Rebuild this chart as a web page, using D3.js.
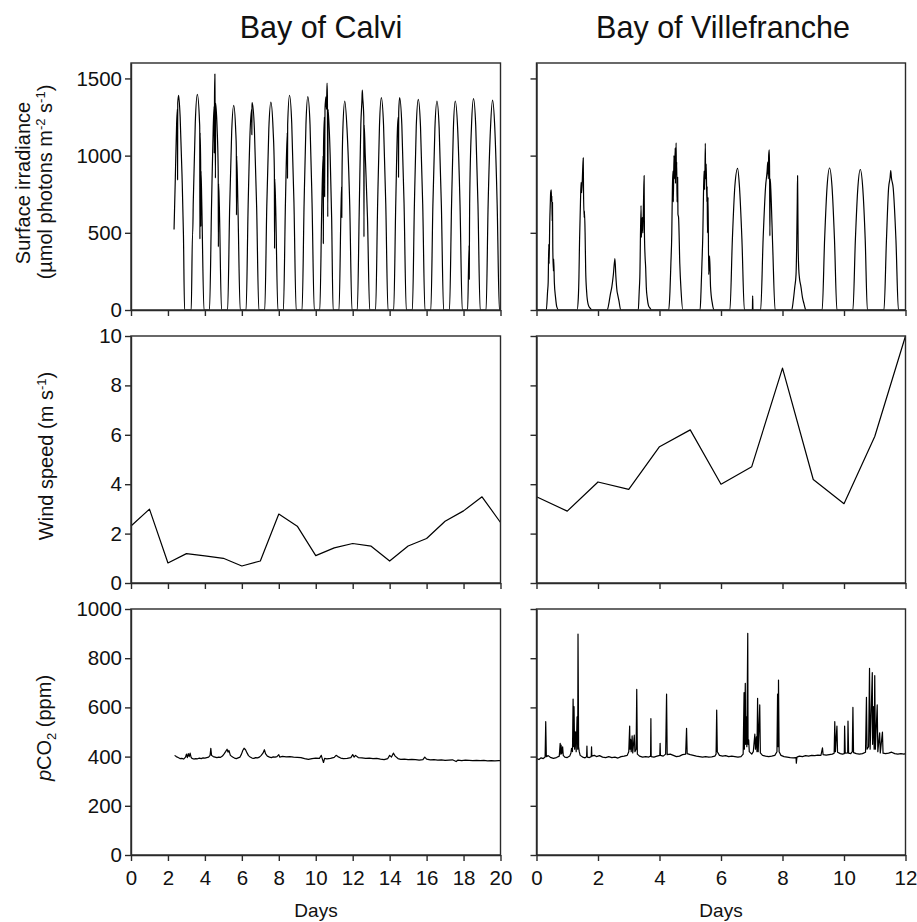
<!DOCTYPE html>
<html><head><meta charset="utf-8">
<script src="https://cdn.jsdelivr.net/npm/d3@7"></script>
<style>
body{margin:0;background:#fff}
svg{display:block}
text{font-family:"Liberation Sans",Arial,Helvetica,sans-serif;fill:#111}
</style>
</head><body>
<svg id="c" width="917" height="922"></svg>
<script>
// ---------- tick labels ----------
const calviDayTicks = [0,2,4,6,8,10,12,14,16,18,20];
const villeDayTicks = [0,2,4,6,8,10,12];
const irrTicks = [0,500,1000,1500];
const windTicks = [0,2,4,6,8,10];
const pco2Ticks = [0,200,400,600,800,1000];
const siteTitles = ["Bay of Calvi","Bay of Villefranche"];

// ---------- surface irradiance [day, µmol photons m-2 s-1] ----------
const calviIrradiance = [
[2.33,521],[2.40,860],[2.47,1210],[2.51,1300],[2.52,843],[2.53,1340],[2.58,1391],[2.66,1250],[2.76,880],[2.84,480],[2.90,0],
[3.26,0],[3.33,500],[3.34,495],[3.37,700],[3.48,1215],[3.59,1397],[3.71,1215],[3.72,1180],[3.73,460],[3.74,1150],[3.77,950],[3.78,540],[3.79,900],[3.83,700],[3.95,0],
[4.25,0],[4.36,680],[4.45,1180],[4.50,1320],[4.51,1017],[4.52,1380],[4.54,1528],[4.55,1360],[4.57,854],[4.58,1340],[4.66,1180],[4.72,900],[4.73,409],[4.74,820],[4.78,680],[4.90,0],
[5.23,0],[5.34,663],[5.45,1154],[5.56,1326],[5.67,1154],[5.70,1050],[5.71,615],[5.72,1000],[5.79,663],[5.91,0],
[6.23,0],[6.34,672],[6.45,1168],[6.53,1300],[6.54,1136],[6.55,1320],[6.56,1343],[6.68,1168],[6.80,672],[6.92,0],
[7.24,0],[7.35,674],[7.46,1172],[7.57,1347],[7.69,1172],[7.76,900],[7.77,398],[7.78,850],[7.83,674],[7.95,0],
[8.25,0],[8.36,696],[8.46,1150],[8.47,854],[8.48,1200],[8.58,1391],[8.70,1210],[8.82,696],[8.94,0],
[9.26,0],[9.37,691],[9.47,1202],[9.57,1382],[9.69,1202],[9.80,691],[9.92,0],
[10.22,0],[10.33,700],[10.40,1000],[10.41,430],[10.42,1050],[10.47,1250],[10.48,734],[10.50,1300],[10.55,1380],[10.58,1300],[10.61,1469],[10.63,1390],[10.65,604],[10.67,1300],[10.78,1000],[10.86,600],[10.94,0],
[11.26,0],[11.37,677],[11.40,800],[11.41,600],[11.42,850],[11.47,1178],[11.57,1354],[11.69,1178],[11.84,677],[11.96,0],
[12.25,0],[12.36,690],[12.44,1200],[12.50,1360],[12.52,1425],[12.54,1380],[12.60,1250],[12.61,474],[12.62,1200],[12.68,1000],[12.80,600],[12.92,0],
[13.24,0],[13.35,688],[13.45,1197],[13.55,1376],[13.67,1197],[13.79,688],[13.91,0],
[14.22,0],[14.33,688],[14.43,1197],[14.47,1250],[14.48,860],[14.49,1280],[14.54,1376],[14.66,1197],[14.78,688],[14.90,0],
[15.23,0],[15.34,683],[15.44,1188],[15.55,1365],[15.67,1188],[15.79,683],[15.91,0],
[16.23,0],[16.34,677],[16.45,1178],[16.56,1354],[16.68,1178],[16.80,677],[16.92,0],
[17.24,0],[17.35,677],[17.45,1178],[17.55,1354],[17.68,1178],[17.81,677],[17.93,0],
[18.22,0],[18.30,420],[18.31,200],[18.32,480],[18.33,685],[18.43,1191],[18.54,1369],[18.66,1191],[18.78,685],[18.90,0],
[19.22,0],[19.33,680],[19.46,1182],[19.57,1359],[19.69,1182],[19.82,680],[19.94,0],[20,0]
];

const villeIrradiance = [
[0,0],[0.32,0],[0.36,120],[0.38,180],[0.40,426],[0.41,300],[0.43,560],[0.45,700],[0.46,760],[0.48,779],[0.49,700],[0.50,740],[0.51,578],[0.52,697],[0.53,400],[0.55,253],[0.56,330],[0.58,180],[0.62,80],[0.66,20],[0.72,0],
[1.32,0],[1.36,80],[1.38,210],[1.40,450],[1.43,700],[1.45,827],[1.47,760],[1.50,900],[1.52,985],[1.53,760],[1.55,600],[1.56,640],[1.58,500],[1.60,253],[1.63,120],[1.68,37],[1.75,10],[1.80,0],
[2.30,0],[2.36,50],[2.40,100],[2.45,150],[2.50,230],[2.55,333],[2.58,220],[2.62,120],[2.64,100],[2.68,60],[2.74,0],
[3.31,0],[3.34,120],[3.36,210],[3.40,677],[3.41,470],[3.44,600],[3.46,500],[3.48,700],[3.50,870],[3.51,500],[3.53,350],[3.55,275],[3.57,150],[3.60,80],[3.64,30],[3.70,10],[3.73,0],
[4.30,0],[4.34,120],[4.37,300],[4.40,500],[4.42,800],[4.44,900],[4.45,700],[4.47,1000],[4.49,850],[4.51,1050],[4.52,820],[4.54,1082],[4.55,880],[4.56,960],[4.57,700],[4.59,860],[4.60,620],[4.62,600],[4.66,300],[4.70,130],[4.76,0],
[5.32,0],[5.35,120],[5.38,300],[5.41,500],[5.43,750],[5.45,900],[5.47,780],[5.49,1080],[5.50,850],[5.52,945],[5.54,700],[5.55,800],[5.56,500],[5.58,730],[5.60,230],[5.63,350],[5.66,150],[5.72,40],[5.78,0],
[6.29,0],[6.37,459],[6.45,800],[6.54,918],[6.60,800],[6.68,459],[6.76,0],
[7.02,0],[7.03,91],[7.04,0],
[7.29,0],[7.37,460],[7.45,800],[7.50,900],[7.52,958],[7.54,850],[7.55,1000],[7.57,1037],[7.58,900],[7.59,480],[7.60,850],[7.62,780],[7.68,420],[7.76,0],
[8.30,0],[8.35,60],[8.40,150],[8.44,230],[8.46,400],[8.48,700],[8.49,870],[8.50,650],[8.51,400],[8.53,260],[8.55,210],[8.60,150],[8.65,80],[8.70,40],[8.76,0],
[9.29,0],[9.37,460],[9.45,800],[9.53,920],[9.61,800],[9.69,460],[9.77,0],
[10.29,0],[10.37,455],[10.45,790],[10.53,910],[10.61,790],[10.69,455],[10.76,0],
[11.30,0],[11.38,450],[11.45,790],[11.50,860],[11.52,903],[11.54,860],[11.60,790],[11.69,450],[11.77,0],[12,0]
];

// ---------- wind speed (m s-1), daily ----------
const calviWindDays = [0,1,2,3,4,5,6,7,8,9,10,11,12,13,14,15,16,17,18,19,20];
const calviWind = [2.31,2.99,0.81,1.19,1.10,1.00,0.69,0.89,2.79,2.30,1.11,1.42,1.60,1.49,0.89,1.50,1.80,2.50,2.92,3.49,2.45];
const villeWindDays = [0,1,2,3,4,5,6,7,8,9,10,11,12];
const villeWind = [3.49,2.91,4.09,3.79,5.52,6.20,4.00,4.71,8.70,4.19,3.21,5.93,10.0];

// ---------- pCO2 (ppm) [day, ppm] ----------
const calviPco2 = [
[2.36,405],[2.45,400],[2.55,396],[2.65,392],[2.75,393],[2.85,390],[2.95,398],[3.0,410],[3.05,396],[3.1,412],[3.15,400],[3.2,414],[3.25,398],[3.3,393],[3.4,390],[3.5,392],[3.6,391],[3.7,394],[3.8,392],[3.9,395],[4.0,394],[4.1,396],[4.2,398],[4.28,405],[4.32,434],[4.36,405],[4.45,400],[4.55,398],[4.65,396],[4.75,398],[4.85,397],[4.95,402],[5.05,412],[5.12,420],[5.2,430],[5.25,418],[5.3,425],[5.38,405],[5.5,398],[5.6,394],[5.7,392],[5.8,395],[5.9,398],[5.98,410],[6.05,425],[6.12,434],[6.2,428],[6.28,415],[6.36,404],[6.45,398],[6.55,394],[6.65,393],[6.75,396],[6.85,395],[6.95,398],[7.05,405],[7.15,415],[7.22,428],[7.28,412],[7.38,402],[7.5,398],[7.6,396],[7.7,399],[7.8,398],[7.9,400],[8.0,408],[8.05,398],[8.2,401],[8.4,399],[8.6,400],[8.8,398],[9.0,397],[9.2,396],[9.4,392],[9.6,389],[9.8,392],[10.0,394],[10.2,393],[10.3,405],[10.35,392],[10.42,376],[10.48,393],[10.6,391],[10.8,393],[11.0,397],[11.1,405],[11.2,400],[11.35,394],[11.5,392],[11.7,393],[11.9,396],[12.0,408],[12.08,398],[12.15,405],[12.3,396],[12.5,395],[12.7,393],[12.9,394],[13.1,392],[13.3,393],[13.5,390],[13.7,388],[13.9,392],[14.0,405],[14.1,398],[14.2,414],[14.3,402],[14.45,392],[14.6,389],[14.8,390],[15.0,388],[15.2,389],[15.4,388],[15.6,386],[15.8,388],[15.9,398],[16.0,390],[16.2,387],[16.4,388],[16.6,386],[16.8,387],[17.0,385],[17.2,386],[17.4,387],[17.6,380],[17.7,386],[17.9,384],[18.1,386],[18.3,385],[18.5,384],[18.7,385],[18.9,384],[19.1,385],[19.3,383],[19.5,384],[19.7,383],[19.9,384],[20.0,384]
];

const villePco2 = [
[0,392],[0.08,388],[0.15,395],[0.22,392],[0.28,398],[0.30,542],[0.32,400],[0.38,404],[0.45,397],[0.55,393],[0.65,396],[0.74,402],[0.77,454],[0.79,410],[0.80,447],[0.82,412],[0.85,440],[0.87,405],[0.92,398],[1.0,396],[1.08,402],[1.12,415],[1.14,434],[1.17,420],[1.19,634],[1.21,440],[1.22,603],[1.24,430],[1.27,501],[1.29,420],[1.32,562],[1.34,430],[1.35,898],[1.37,440],[1.39,420],[1.42,405],[1.5,398],[1.58,395],[1.63,400],[1.64,443],[1.65,398],[1.72,396],[1.78,400],[1.79,440],[1.80,402],[1.88,405],[1.95,400],[2.05,404],[2.15,398],[2.25,396],[2.35,400],[2.45,396],[2.55,398],[2.65,394],[2.75,400],[2.85,402],[2.95,405],[3.0,420],[3.03,524],[3.04,430],[3.06,470],[3.08,420],[3.11,484],[3.13,415],[3.18,487],[3.2,420],[3.24,430],[3.26,673],[3.28,410],[3.35,402],[3.45,398],[3.55,400],[3.65,398],[3.71,402],[3.72,554],[3.73,400],[3.82,398],[3.92,402],[4.01,405],[4.02,454],[4.03,405],[4.12,402],[4.20,410],[4.23,654],[4.25,408],[4.35,410],[4.45,405],[4.55,400],[4.65,402],[4.75,408],[4.85,410],[4.88,515],[4.90,412],[5.0,408],[5.1,405],[5.2,402],[5.3,400],[5.4,398],[5.5,400],[5.6,398],[5.7,399],[5.8,402],[5.84,410],[5.86,589],[5.88,420],[5.95,405],[6.05,402],[6.15,404],[6.25,400],[6.35,402],[6.45,400],[6.55,398],[6.65,400],[6.72,410],[6.75,660],[6.76,430],[6.79,698],[6.80,450],[6.82,562],[6.84,440],[6.87,901],[6.88,450],[6.90,468],[6.92,420],[7.0,410],[7.05,420],[7.10,491],[7.12,430],[7.15,480],[7.17,420],[7.19,637],[7.21,420],[7.26,610],[7.28,415],[7.35,405],[7.45,402],[7.55,400],[7.65,402],[7.75,405],[7.82,420],[7.84,654],[7.86,440],[7.87,711],[7.89,420],[7.95,405],[8.05,400],[8.15,398],[8.25,396],[8.35,395],[8.44,396],[8.45,373],[8.47,398],[8.55,402],[8.65,400],[8.75,404],[8.85,402],[8.95,405],[9.05,404],[9.15,406],[9.25,405],[9.30,436],[9.32,408],[9.42,406],[9.52,408],[9.62,410],[9.68,414],[9.70,542],[9.72,420],[9.77,524],[9.79,418],[9.88,412],[9.95,410],[10.01,412],[10.02,524],[10.04,414],[10.12,415],[10.13,544],[10.15,414],[10.22,412],[10.27,420],[10.29,600],[10.31,416],[10.4,412],[10.5,410],[10.6,412],[10.7,418],[10.73,641],[10.75,430],[10.80,440],[10.83,759],[10.85,430],[10.92,741],[10.93,450],[10.96,603],[10.98,430],[11.0,729],[11.02,430],[11.08,610],[11.10,420],[11.16,497],[11.18,415],[11.25,500],[11.27,414],[11.35,412],[11.45,414],[11.55,418],[11.65,412],[11.75,410],[11.85,412],[11.95,410],[12,412]
];

// ---------- layout ----------
const svg = d3.select("#c");
const cols = [
  {x0:131, x1:500.5, dom:[0,20], ticks:calviDayTicks},
  {x0:536.5, x1:905.5, dom:[0,12], ticks:villeDayTicks}
];
const rows = [
  {y0:63,  y1:310, dom:[0,1600], ticks:irrTicks},
  {y0:336, y1:583, dom:[0,10],   ticks:windTicks},
  {y0:609, y1:855, dom:[0,1000], ticks:pco2Ticks}
];
const series = [
  [ {data:calviIrradiance, curve:d3.curveMonotoneX}, {data:villeIrradiance, curve:d3.curveMonotoneX} ],
  [ {data:calviWindDays.map((d,i)=>[d,calviWind[i]]), curve:d3.curveLinear},
    {data:villeWindDays.map((d,i)=>[d,villeWind[i]]), curve:d3.curveLinear} ],
  [ {data:calviPco2, curve:d3.curveLinear}, {data:villePco2, curve:d3.curveLinear} ]
];

const axisColor = "#2a2a2a";
rows.forEach((r, ri) => {
  cols.forEach((c, ci) => {
    const x = d3.scaleLinear().domain(c.dom).range([c.x0, c.x1]);
    const y = d3.scaleLinear().domain(r.dom).range([r.y1, r.y0]);
    const g = svg.append("g");
    const s = series[ri][ci];
    const line = d3.line().x(d=>x(d[0])).y(d=>y(d[1])).curve(s.curve);
    g.append("path").attr("d", line(s.data))
      .attr("fill","none").attr("stroke","#000").attr("stroke-width",1.2)
      .attr("stroke-linejoin","round");
    g.append("rect").attr("x",c.x0).attr("y",r.y0)
      .attr("width",c.x1-c.x0).attr("height",r.y1-r.y0)
      .attr("fill","none").attr("stroke",axisColor).attr("stroke-width",1.4);
    const ya = d3.axisLeft(y).tickValues(r.ticks).tickSize(6).tickSizeOuter(0).tickPadding(3)
      .tickFormat(ci===0 ? d3.format("d") : ()=>"");
    const yg = g.append("g").attr("transform",`translate(${c.x0},0)`).call(ya);
    const xa = d3.axisBottom(x).tickValues(c.ticks).tickSize(6).tickSizeOuter(0).tickPadding(9)
      .tickFormat(ri===2 ? d3.format("d") : ()=>"");
    const xg = g.append("g").attr("transform",`translate(0,${r.y1})`).call(xa);
    [yg,xg].forEach(a=>{
      a.select(".domain").attr("stroke",axisColor).attr("stroke-width",1.4);
      a.selectAll(".tick line").attr("stroke",axisColor).attr("stroke-width",1.4);
      a.selectAll(".tick text").attr("font-size",20.5).attr("fill","#111")
        .attr("font-family",'"Liberation Sans",Arial,sans-serif');
    });
  });
});

// titles
svg.append("text").attr("x",321).attr("y",38).attr("text-anchor","middle").attr("font-size",30.5).text(siteTitles[0]);
svg.append("text").attr("x",723).attr("y",38).attr("text-anchor","middle").attr("font-size",30.5).text(siteTitles[1]);

// x labels
svg.append("text").attr("x",316).attr("y",917).attr("text-anchor","middle").attr("font-size",19).text("Days");
svg.append("text").attr("x",721).attr("y",917).attr("text-anchor","middle").attr("font-size",19).text("Days");

// y labels
function vlabel(bx, cy){
  return svg.append("text").attr("transform",`translate(${bx},${cy}) rotate(-90)`)
    .attr("text-anchor","middle").attr("font-size",20);
}
vlabel(30,183).text("Surface irradiance");
const l2 = vlabel(52,182);
l2.append("tspan").text("(\u00B5mol photons m");
l2.append("tspan").attr("dy",-7).attr("font-size",13).text("-2");
l2.append("tspan").attr("dy",7).text(" s");
l2.append("tspan").attr("dy",-7).attr("font-size",13).text("-1");
l2.append("tspan").attr("dy",7).text(")");

const wl = vlabel(53,456);
wl.append("tspan").text("Wind speed (m s");
wl.append("tspan").attr("dy",-7).attr("font-size",13).text("-1");
wl.append("tspan").attr("dy",7).text(")");

const pl = vlabel(51,728);
pl.append("tspan").attr("font-style","italic").text("p");
pl.append("tspan").text("CO");
pl.append("tspan").attr("dy",5).attr("font-size",13).text("2");
pl.append("tspan").attr("dy",-5).text(" (ppm)");
</script>
</body></html>
